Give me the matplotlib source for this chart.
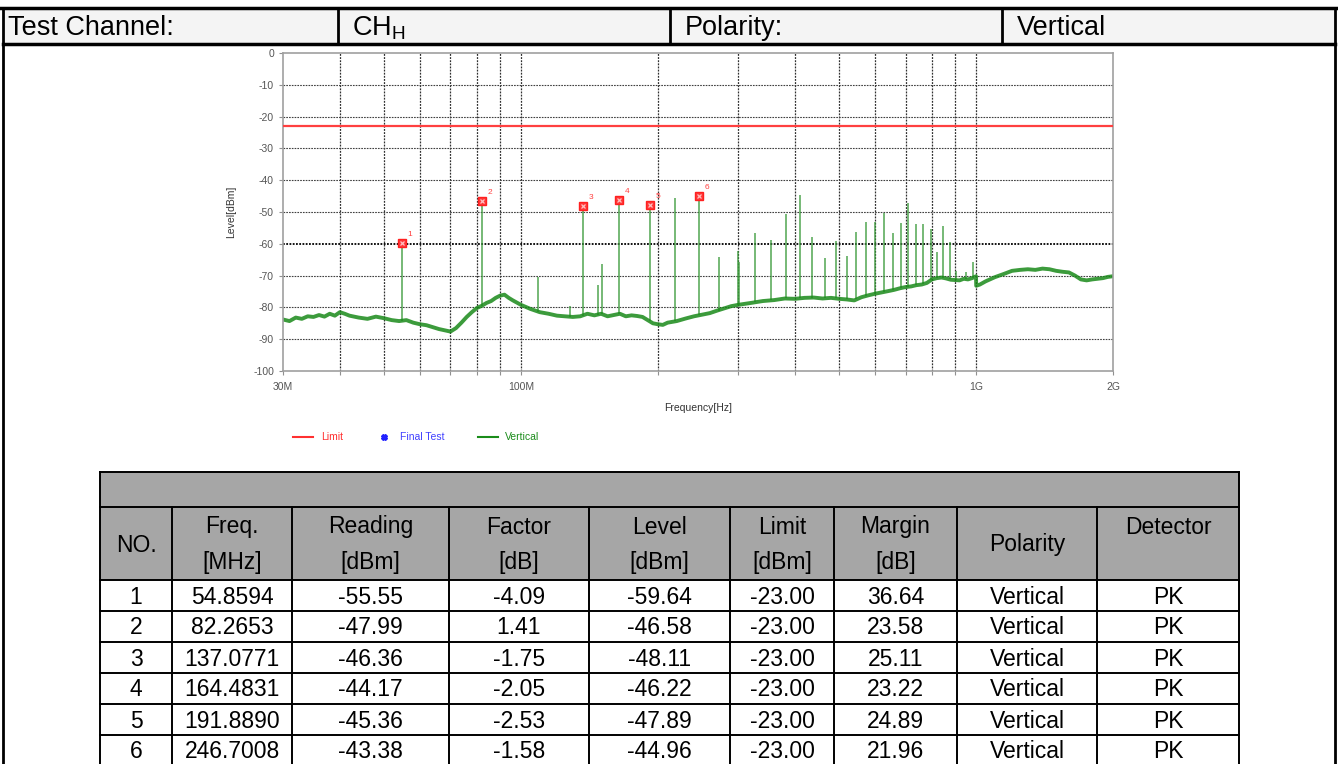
import numpy as np
import matplotlib
matplotlib.use("Agg")
import matplotlib.pyplot as plt

plt.rcParams['font.family'] = ['Liberation Sans', 'DejaVu Sans']
plt.rcParams['axes.unicode_minus'] = False

# ---------------- data ----------------
floor_freq = [30, 31, 32, 33, 34, 35, 36, 37, 38, 39, 40, 41, 42, 44, 46, 48, 50, 52, 54, 56, 58,
              60, 62, 64, 66, 68, 70, 72, 74, 76, 78, 80, 82, 84, 86, 88, 90, 92, 94, 96, 98, 100,
              105, 110, 115, 120, 125, 130, 135, 140, 145, 150, 155, 160, 165, 170, 175, 180, 185,
              190, 195, 200, 205, 210, 220, 230, 240, 250, 260, 270, 280, 290, 300, 320, 340, 360,
              380, 400, 420, 440, 460, 480, 500, 520, 540, 560, 580, 600, 620, 640, 660, 680, 700,
              720, 740, 760, 780, 800, 820, 840, 860, 880, 900, 920, 940, 960, 980, 1000, 1001,
              1020, 1050, 1100, 1150, 1200, 1250, 1300, 1350, 1400, 1450, 1500, 1550, 1600, 1650,
              1700, 1750, 1800, 1850, 1900, 1950, 2000]
floor_level = [-83.8, -84.3, -83.2, -83.6, -82.8, -83.0, -82.4, -82.9, -82.0, -82.6, -81.5, -82.0,
               -82.6, -83.2, -83.6, -82.9, -83.4, -84.0, -84.3, -84.0, -84.8, -85.3, -85.6, -86.2,
               -86.8, -87.2, -87.6, -86.5, -84.8, -83.0, -81.5, -80.2, -79.5, -78.6, -78.0, -77.0,
               -76.3, -76.0, -77.0, -77.8, -78.5, -79.2, -80.5, -81.5, -82.0, -82.6, -82.8, -83.0,
               -82.8, -82.0, -82.5, -82.0, -82.8, -82.4, -82.0, -82.8, -82.5, -82.7, -83.0, -84.0,
               -85.0, -85.3, -85.5, -84.8, -84.3, -83.5, -82.8, -82.3, -81.8, -81.0, -80.3, -79.6,
               -79.2, -78.6, -78.0, -77.7, -77.2, -77.3, -77.0, -76.9, -77.2, -77.0, -77.3, -77.5,
               -77.8, -76.8, -76.2, -75.7, -75.3, -74.9, -74.5, -74.0, -73.6, -73.4, -73.0, -72.8,
               -72.3, -71.2, -70.8, -70.6, -70.9, -71.3, -71.4, -71.5, -71.0, -71.2, -70.8, -70.2,
               -73.2, -72.8, -71.8, -70.5, -69.5, -68.5, -68.2, -68.0, -68.2, -67.8, -68.0, -68.5,
               -68.8, -69.0, -70.0, -71.2, -71.5, -71.2, -71.0, -70.8, -70.4, -70.2]

spike_freq = [54.86, 82.27, 109, 128, 137.08, 148, 151, 164.48, 191.89, 218, 246.7, 273, 300, 302,
              327, 354, 382, 410, 437, 466, 492, 520, 546, 573, 600, 629, 656, 684, 710, 738, 766,
              795, 819, 846, 876, 903, 950, 983]
spike_peak = [-59.64, -46.58, -70.3, -79.5, -48.11, -73.0, -66.4, -46.22, -47.89, -45.7, -44.96,
              -64.3, -62.2, -65.8, -56.5, -58.8, -50.7, -44.7, -57.8, -64.6, -59.1, -63.8, -56.2,
              -53.0, -53.0, -50.4, -56.5, -53.6, -47.3, -53.8, -53.9, -55.5, -62.5, -54.4, -59.3,
              -68.5, -69.0, -65.6]
spike_base = [-84.3, -79.5, -81.3, -83.0, -82.8, -82.3, -82.0, -82.0, -84.2, -84.3, -82.4, -81.0,
              -79.2, -79.2, -78.4, -77.8, -77.2, -77.1, -76.9, -77.2, -77.2, -77.5, -77.3, -76.3,
              -75.7, -75.1, -74.6, -74.0, -73.5, -73.0, -72.7, -71.5, -70.8, -70.6, -71.2, -71.4,
              -71.0, -70.8]

limit_level = -23.0

x_ticks = [30, 100, 1000, 2000]
x_tick_labels = ['30M', '100M', '1G', '2G']
x_grid = [40, 50, 60, 70, 80, 90, 100, 200, 300, 400, 500, 600, 700, 800, 900, 1000]
y_ticks = [0, -10, -20, -30, -40, -50, -60, -70, -80, -90, -100]

no = [1, 2, 3, 4, 5, 6]
freq_txt = ['54.8594', '82.2653', '137.0771', '164.4831', '191.8890', '246.7008']
freq_val = [54.8594, 82.2653, 137.0771, 164.4831, 191.8890, 246.7008]
reading = [-55.55, -47.99, -46.36, -44.17, -45.36, -43.38]
factor = [-4.09, 1.41, -1.75, -2.05, -2.53, -1.58]
level = [-59.64, -46.58, -48.11, -46.22, -47.89, -44.96]
limit = [-23.00, -23.00, -23.00, -23.00, -23.00, -23.00]
margin = [36.64, 23.58, 25.11, 23.22, 24.89, 21.96]
polarity = ['Vertical'] * 6
detector = ['PK'] * 6

headers = [('NO.', None), ('Freq.', '[MHz]'), ('Reading', '[dBm]'), ('Factor', '[dB]'),
           ('Level', '[dBm]'), ('Limit', '[dBm]'), ('Margin', '[dB]'), ('Polarity', None),
           ('Detector', '')]

# ---------------- figure ----------------
W, H = 1338, 764
fig = plt.figure(figsize=(W / 100, H / 100), dpi=100)
bg = fig.add_axes([0, 0, 1, 1])
bg.set_xlim(0, W)
bg.set_ylim(H, 0)
bg.axis('off')

# page borders and header row
bg.plot([0, W], [8, 8], color='black', lw=2.5)
bg.plot([3, 3], [8, H], color='black', lw=2)
bg.plot([1335, 1335], [8, H], color='black', lw=2)
bg.add_patch(plt.Rectangle((3, 8), 1332, 36, facecolor='#f4f4f4', edgecolor='none', zorder=0))
bg.plot([3, 1335], [44, 44], color='black', lw=2.5)
for xv in [338, 670, 1002]:
    bg.plot([xv, xv], [8, 44], color='black', lw=2)
hfs = 19.5
bg.text(8, 28, 'Test Channel:', fontsize=hfs, va='center', ha='left')
bg.text(352, 28, r'CH$_{\mathregular{H}}$', fontsize=hfs, va='center', ha='left')
bg.text(685, 28, 'Polarity:', fontsize=hfs, va='center', ha='left')
bg.text(1017, 28, 'Vertical', fontsize=hfs, va='center', ha='left')

# legend below chart
chart_font = ['Liberation Sans Narrow', 'Liberation Sans', 'DejaVu Sans']
ly = 437
bg.plot([293, 313], [ly, ly], color='#ff3030', lw=1.5)
bg.text(321, ly, 'Limit', color='#ff3030', fontsize=7.5, va='center', family=chart_font)
bg.plot([384], [ly], marker='X', color='#2020ff', ms=4, lw=0)
bg.text(400, ly, 'Final Test', color='#4040ff', fontsize=7.5, va='center', family=chart_font)
bg.plot([478, 498], [ly, ly], color='#1a8c1a', lw=1.5)
bg.text(505, ly, 'Vertical', color='#1a8c1a', fontsize=7.5, va='center', family=chart_font)

# ---------------- data table ----------------
col_x = [100, 172, 292, 449, 589, 730, 834, 957, 1097, 1239]
t_top, t_hdr, t_data = 472, 507, 580
row_h = 31
bg.add_patch(plt.Rectangle((col_x[0], t_top), col_x[-1] - col_x[0], t_data - t_top,
                           facecolor='#a6a6a6', edgecolor='none', zorder=0))
lwt = 1.4
bg.plot([col_x[0], col_x[-1]], [t_top, t_top], color='black', lw=lwt)
bg.plot([col_x[0], col_x[-1]], [t_hdr, t_hdr], color='black', lw=lwt)
for i in range(7):
    yy = t_data + i * row_h
    bg.plot([col_x[0], col_x[-1]], [yy, yy], color='black', lw=lwt)
bg.plot([col_x[0], col_x[0]], [t_top, H], color='black', lw=lwt)
bg.plot([col_x[-1], col_x[-1]], [t_top, H], color='black', lw=lwt)
for xv in col_x[1:-1]:
    bg.plot([xv, xv], [t_hdr, H], color='black', lw=lwt)

tfs = 16.5
centers = [(col_x[i] + col_x[i + 1]) / 2 for i in range(9)]
for c, (l1, l2) in zip(centers, headers):
    if l2 is None:
        bg.text(c, 545, l1, fontsize=tfs, ha='center', va='center')
    else:
        bg.text(c, 527, l1, fontsize=tfs, ha='center', va='center')
        if l2:
            bg.text(c, 563, l2, fontsize=tfs, ha='center', va='center')

for i in range(6):
    yc = t_data + i * row_h + row_h / 2 + 1.5
    vals = [str(no[i]), freq_txt[i], f'{reading[i]:.2f}', f'{factor[i]:.2f}', f'{level[i]:.2f}',
            f'{limit[i]:.2f}', f'{margin[i]:.2f}', polarity[i], detector[i]]
    for c, v in zip(centers, vals):
        bg.text(c, yc, v, fontsize=tfs, ha='center', va='center')

# ---------------- chart ----------------
L, R, T, B = 283, 1113, 53, 371
ax = fig.add_axes([L / W, 1 - B / H, (R - L) / W, (B - T) / H])
ax.set_zorder(5)
ax.set_xscale('log')
ax.set_xlim(30, 2000)
ax.set_ylim(-100, 0)

for f in x_grid:
    ax.axvline(f, color='#303030', lw=0.9, ls=(0, (1.5, 1)), zorder=1)
for yv in y_ticks[1:-1]:
    if yv == -60:
        ax.axhline(yv, color='black', lw=1.3, ls=(0, (1, 0.8)), zorder=1)
    else:
        ax.axhline(yv, color='#404040', lw=0.8, ls=(0, (1.5, 1)), zorder=1)

ax.axhline(limit_level, color='#ff4040', lw=1.6, zorder=3)

ax.vlines(spike_freq, spike_base, spike_peak, color='#3a9a3a', lw=1.3, alpha=0.75, zorder=2)
ax.plot(floor_freq, floor_level, color='#1a8a1a', lw=2.8, alpha=0.85, zorder=2)

ax.plot(freq_val, level, ls='none', marker='s', ms=5.5, mfc='#ff3a3a', mec='#ff2020', zorder=4)
ax.plot(freq_val, level, ls='none', marker='x', ms=3.5, mec='#ffc0c0', mew=0.9, zorder=4)
for n, f, lv in zip(no, freq_val, level):
    ax.annotate(str(n), (f, lv), xytext=(4, 5), textcoords='offset points', color='#ff4040',
                fontsize=6, family=chart_font)

ax.set_xticks(x_ticks)
ax.set_xticklabels(x_tick_labels)
ax.set_xticks([f for f in x_grid if f not in x_ticks], minor=True)
ax.xaxis.set_minor_formatter(matplotlib.ticker.NullFormatter())
ax.set_yticks(y_ticks)
ax.set_yticklabels([str(v) for v in y_ticks])
ax.tick_params(axis='both', which='both', labelsize=7.5, colors='#909090', labelcolor='#555555',
               length=3, width=0.8)
ax.tick_params(axis='x', pad=5)
for lab in ax.get_xticklabels() + ax.get_yticklabels():
    lab.set_family(chart_font)
for sp in ax.spines.values():
    sp.set_color('#a0a0a0')
    sp.set_linewidth(1.2)

ax.set_xlabel('Frequency[Hz]', fontsize=7.5, color='#333333', family=chart_font, labelpad=8)
ax.set_ylabel('Level[dBm]', fontsize=7.5, color='#333333', family=chart_font, labelpad=12)

fig.savefig('out.png', dpi=100)
